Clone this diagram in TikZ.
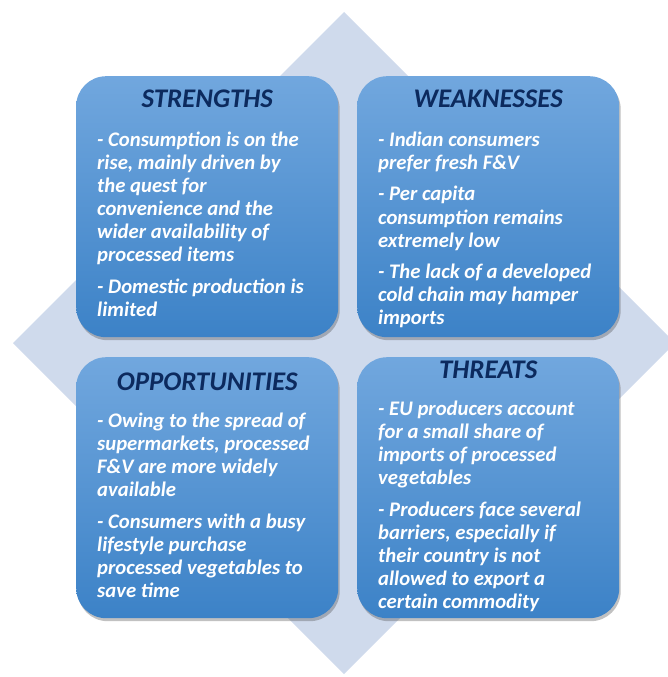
\documentclass[tikz,border=0pt]{standalone}
\usepackage{fontspec}
\setmainfont{Carlito}
\usetikzlibrary{positioning,calc,shadows}
\definecolor{diamondbg}{HTML}{CFDAEC}
\definecolor{boxtop}{HTML}{71A7DE}
\definecolor{boxbot}{HTML}{3C82C7}
\definecolor{headnavy}{HTML}{0C2A5E}
\tikzset{
  swotbox/.style={rounded corners=30bp, minimum width=262bp, minimum height=261bp,
    inner sep=0pt, top color=boxtop, bottom color=boxbot, anchor=north west,
    drop shadow={shadow xshift=1.5bp, shadow yshift=-3bp, opacity=0.35, fill=black!70}},
  swothead/.style={anchor=base, inner sep=0pt, text=headnavy,
    font=\fontsize{27}{30}\selectfont\bfseries\itshape},
  swotbody/.style={anchor=north west, inner sep=0pt, align=left, text=white,
    font=\fontsize{20.8}{23.2}\selectfont\bfseries\itshape},
}
\newcommand{\pgap}{\\[8.5bp]}
\begin{document}
\begin{tikzpicture}[x=1bp,y=-1bp]
  \useasboundingbox (0,0) rectangle (668,677);
  % background diamond
  \fill[diamondbg] (344,12) -- (675,343) -- (344,674) -- (13,343) -- cycle;
  % the four quadrants
  \node[swotbox] (sbox) at (76,76) {};
  \node[swotbox] (wbox) at (357,76) {};
  \node[swotbox] (obox) at (76,357) {};
  \node[swotbox] (tbox) at (357,357) {};
  % headings
  \node[swothead] (shead) at ($(sbox.north)+(0,32)$) {STRENGTHS};
  \node[swothead] (whead) at ($(wbox.north)+(0,32)$) {WEAKNESSES};
  \node[swothead] (ohead) at ($(obox.north)+(0,33)$) {OPPORTUNITIES};
  \node[swothead] (thead) at ($(tbox.north)+(0,21)$) {THREATS};
  % bullet texts
  \node[swotbody] (stext) at ($(sbox.north west)+(21,53.8)$)
    {\strut- Consumption is on the\\ rise, mainly driven by\\ the quest for\\
     convenience and the\\ wider availability of\\ processed items\pgap
     - Domestic production is\\ limited};
  \node[swotbody] (wtext) at ($(wbox.north west)+(21,53.8)$)
    {\strut- Indian consumers\\ prefer fresh F\&V\pgap
     - Per capita\\ consumption remains\\ extremely low\pgap
     - The lack of a developed\\ cold chain may hamper\\ imports};
  \node[swotbody] (otext) at ($(obox.north west)+(21,53.8)$)
    {\strut- Owing to the spread of\\ supermarkets, processed\\ F\&V are more widely\\
     available\pgap
     - Consumers with a busy\\ lifestyle purchase\\ processed vegetables to\\ save time};
  \node[swotbody] (ttext) at ($(tbox.north west)+(21,41.8)$)
    {\strut- EU producers account\\ for a small share of\\ imports of processed\\
     vegetables\pgap
     - Producers face several\\ barriers, especially if\\ their country is not\\
     allowed to export a\\ certain commodity};
\end{tikzpicture}
\end{document}
